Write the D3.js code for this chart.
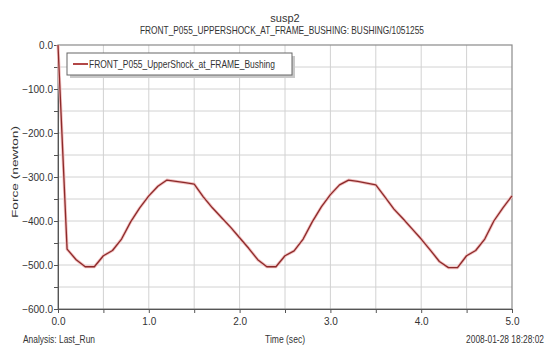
<!DOCTYPE html>
<html><head><meta charset="utf-8">
<script src="https://cdn.jsdelivr.net/npm/d3@7"></script>
<style>
body{margin:0;background:#fff;}
text{font-family:"Liberation Sans Narrow","Liberation Sans",Arial,sans-serif;fill:#333;}
</style></head><body>
<svg id="c" width="551" height="349"></svg>
<script>
const titleLines = ["susp2", "FRONT_P055_UPPERSHOCK_AT_FRAME_BUSHING: BUSHING/1051255"];
const seriesName = "FRONT_P055_UpperShock_at_FRAME_Bushing";
const time = [0.0,0.1,0.2,0.3,0.4,0.5,0.6,0.7,0.8,0.9,1.0,1.1,1.2,1.3,1.4,1.5,1.6,1.7,1.8,1.9,2.0,2.1,2.2,2.3,2.4,2.5,2.6,2.7,2.8,2.9,3.0,3.1,3.2,3.3,3.4,3.5,3.6,3.7,3.8,3.9,4.0,4.1,4.2,4.3,4.4,4.5,4.6,4.7,4.8,4.9,5.0];
const force = [0,-464,-488,-504,-504,-479,-467,-441,-402,-370,-343,-321,-307,-310,-313,-316,-345,-370,-392,-414,-438,-462,-488,-504,-504,-479,-468,-441,-402,-368,-340,-318,-307,-310,-314,-318,-345,-373,-395,-418,-441,-466,-492,-506,-506,-479,-467,-441,-400,-370,-343];
const xTicks = [0,1,2,3,4,5];
const yTicks = [0,-100,-200,-300,-400,-500,-600];
const xLabel = "Time (sec)";
const yLabel = "Force (newton)";
const footLeft = "Analysis: Last_Run";
const footRight = "2008-01-28 18:28:02";

const svg = d3.select("#c");
const L=58, R=512, T=45, B=309;
const x = d3.scaleLinear().domain([0,5]).range([L,R]);
const y = d3.scaleLinear().domain([-600,0]).range([B,T]);

// grid
const g = svg.append("g");
g.selectAll(".vg").data(d3.range(0.5,5,0.5)).join("line")
 .attr("x1",d=>x(d)).attr("x2",d=>x(d)).attr("y1",T).attr("y2",B)
 .attr("stroke","#d2d2d2").attr("stroke-width",1);
g.selectAll(".hg").data(d3.range(-550,0,50)).join("line")
 .attr("y1",d=>y(d)).attr("y2",d=>y(d)).attr("x1",L).attr("x2",R)
 .attr("stroke","#d2d2d2").attr("stroke-width",1);
// frame
svg.append("rect").attr("x",L).attr("y",T).attr("width",R-L).attr("height",B-T)
 .attr("fill","none").attr("stroke","#8a8a8a").attr("stroke-width",1.2);

// axes
const xAxis = d3.axisBottom(x).tickValues(d3.range(0,5.01,0.5)).tickSize(4)
 .tickFormat(d=> xTicks.includes(d)? d3.format(".1f")(d):"");
const xa = svg.append("g").attr("transform",`translate(0,${B})`).call(xAxis);
const yAxis = d3.axisLeft(y).tickValues(d3.range(-600,1,50)).tickSize(4)
 .tickFormat(d=> yTicks.includes(d)? d3.format(".1f")(d):"");
const ya = svg.append("g").attr("transform",`translate(${L},0)`).call(yAxis);
[xa,ya].forEach(a=>{
  a.select(".domain").attr("stroke","#555");
  a.selectAll(".tick line").attr("stroke","#555");
  a.selectAll("text").attr("font-size","10px").attr("fill","#444")
   .attr("font-family",'"Liberation Sans Narrow","Liberation Sans",Arial,sans-serif');
});
xa.selectAll("text").attr("dy","0.9em");
ya.selectAll("text").attr("x",-5).attr("dy","0.32em");

// line
const line = d3.line().x((d,i)=>x(time[i])).y(d=>y(d));
svg.append("path").datum(force).attr("d",line).attr("fill","none")
 .attr("stroke","#f2c0c0").attr("stroke-width",3).attr("stroke-linejoin","round");
svg.append("path").datum(force).attr("d",line).attr("fill","none")
 .attr("stroke","#8c2a2a").attr("stroke-width",1.3).attr("stroke-linejoin","round");

// legend
const lg = svg.append("g");
lg.append("rect").attr("x",70).attr("y",56).attr("width",225).attr("height",22).attr("fill","#c8c8c8");
lg.append("rect").attr("x",67).attr("y",53).attr("width",225).attr("height",22).attr("fill","#fff").attr("stroke","#666");
lg.append("line").attr("x1",73).attr("x2",88).attr("y1",64).attr("y2",64).attr("stroke","#a33").attr("stroke-width",1.8);
lg.append("text").attr("x",89).attr("y",68).attr("font-size","11px").attr("fill","#8c3a3a")
 .attr("textLength",186).attr("lengthAdjust","spacingAndGlyphs").text(seriesName);

// titles
svg.append("text").attr("x",285).attr("y",22).attr("text-anchor","middle").attr("font-size","11px").text(titleLines[0]);
svg.append("text").attr("x",282).attr("y",34).attr("text-anchor","middle").attr("font-size","11px")
 .attr("textLength",284).attr("lengthAdjust","spacingAndGlyphs").text(titleLines[1]);

// axis labels
svg.append("text").attr("transform","translate(18,172) rotate(-90)").attr("text-anchor","middle")
 .attr("font-size","9.5px").attr("fill","#555").attr("textLength",92).attr("lengthAdjust","spacingAndGlyphs").text(yLabel);
svg.append("text").attr("x",285).attr("y",343).attr("text-anchor","middle").attr("font-size","10.5px")
 .attr("textLength",40).attr("lengthAdjust","spacingAndGlyphs").text(xLabel);
svg.append("text").attr("x",23).attr("y",343).attr("font-size","10.5px")
 .attr("textLength",72).attr("lengthAdjust","spacingAndGlyphs").text(footLeft);
svg.append("text").attr("transform","translate(544,343) scale(0.8,1)").attr("text-anchor","end")
 .attr("font-size","10.5px").text(footRight);
</script></body></html>
